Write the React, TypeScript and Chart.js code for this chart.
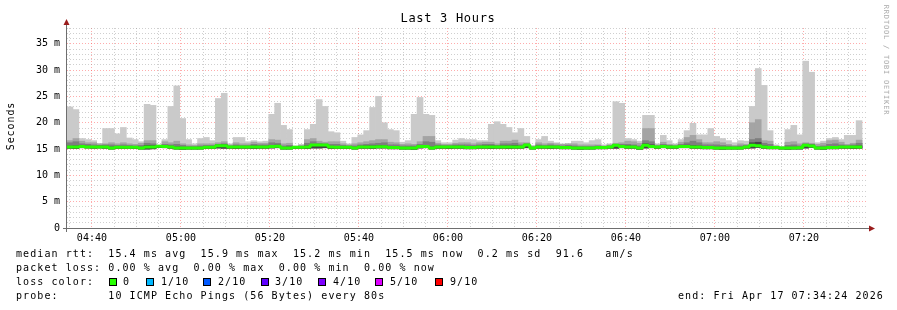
import React, { useEffect, useRef } from "react";
import { Chart, registerables } from "chart.js";

Chart.register(...registerables);

const STEP_SECONDS = 80;
const RANGE_SECONDS = 10800;
const FIRST_MAJOR = 336; // 04:40:00, seconds after 04:34:24
const MAJOR_EVERY = 1200;
const MINOR_EVERY = 300;

// top of smoke (slowest ping), ms
const maxRtt = [
  23.0, 22.5, 17.0, 16.8, 16.6, 16.0, 18.9, 18.9, 17.9, 19.1, 17.1, 16.8, 16.4, 23.5, 23.3, 15.8, 16.8, 23.1, 27.0, 20.8,
  16.8, 16.0, 17.0, 17.2, 16.6, 24.6, 25.6, 16.0, 17.2, 17.2, 16.4, 16.6, 16.4, 16.5, 21.6, 23.7, 19.5, 18.7, 15.6, 15.9,
  18.7, 19.7, 24.4, 23.1, 18.3, 18.1, 16.5, 16.0, 17.2, 17.7, 18.5, 22.9, 25.0, 20.0, 18.7, 18.5, 16.3, 16.6, 21.6, 24.8,
  21.6, 21.4, 16.6, 16.2, 16.2, 16.7, 17.0, 16.8, 16.8, 16.6, 16.6, 19.7, 20.2, 19.7, 19.1, 18.1, 18.9, 17.4, 15.6, 16.8,
  17.4, 16.5, 16.2, 16.0, 16.0, 16.5, 16.5, 16.2, 16.6, 16.8, 15.8, 16.0, 24.0, 23.7, 17.0, 16.8, 16.5, 21.4, 21.4, 16.0,
  17.6, 16.6, 16.0, 16.8, 18.5, 19.9, 17.7, 17.7, 18.9, 17.4, 17.0, 16.6, 16.2, 16.6, 16.5, 23.1, 30.3, 27.1, 18.5, 15.8,
  15.5, 18.7, 19.5, 17.7, 31.7, 29.6, 16.2, 16.5, 17.0, 17.2, 16.8, 17.6, 17.6, 20.4, null,
];

// second smoke layer top (9th ping), ms
const p9Rtt = [
  16.6, 17.0, 16.5, 16.2, 16.2, 16.0, 16.0, 16.2, 16.0, 16.2, 16.0, 15.9, 16.1, 16.6, 16.6, 15.7, 16.4, 16.2, 16.5, 16.0,
  15.8, 15.7, 16.0, 16.0, 16.0, 16.2, 16.4, 15.8, 16.2, 16.0, 16.0, 16.3, 16.1, 16.1, 16.8, 16.7, 16.0, 16.1, 15.5, 15.7,
  16.8, 17.0, 16.5, 16.3, 16.4, 16.4, 16.0, 15.8, 16.0, 16.2, 16.4, 16.6, 16.8, 16.8, 16.3, 16.2, 15.9, 16.0, 15.9, 16.4,
  17.4, 17.4, 16.1, 15.9, 15.9, 16.1, 16.2, 16.2, 16.0, 16.2, 16.3, 16.3, 16.0, 16.5, 16.5, 16.7, 16.2, 16.2, 15.6, 16.2,
  16.0, 16.1, 16.0, 15.9, 16.0, 16.0, 15.8, 15.8, 15.8, 15.8, 15.6, 15.8, 16.1, 16.2, 16.5, 16.4, 16.1, 18.9, 18.9, 15.8,
  16.3, 15.9, 15.8, 16.3, 17.2, 17.6, 16.8, 16.2, 16.2, 16.4, 16.2, 15.9, 15.7, 16.0, 15.9, 20.0, 20.6, 16.6, 16.5, 15.6,
  15.4, 16.3, 16.4, 16.0, 16.2, 16.1, 15.9, 16.1, 16.6, 16.7, 16.3, 15.9, 16.1, 16.7, null,
];

// third smoke layer top (8th ping), ms
const p8Rtt = [
  16.2, 16.4, 16.0, 15.9, 15.8, 15.7, 15.8, 15.8, 15.7, 15.8, 15.7, 15.6, 15.7, 16.1, 16.0, 15.6, 15.9, 15.8, 15.9, 15.7,
  15.5, 15.5, 15.6, 15.7, 15.7, 15.9, 16.0, 15.6, 15.8, 15.7, 15.7, 15.9, 15.8, 15.8, 16.2, 16.1, 15.6, 15.7, 15.45, 15.5,
  16.1, 16.4, 16.1, 16.0, 15.9, 15.9, 15.7, 15.6, 15.6, 15.8, 15.9, 16.0, 16.1, 16.2, 15.8, 15.8, 15.6, 15.6, 15.6, 15.9,
  16.4, 16.3, 15.8, 15.7, 15.7, 15.8, 15.8, 15.8, 15.7, 15.8, 15.9, 15.9, 15.7, 16.0, 16.0, 16.1, 15.8, 16.0, 15.4, 15.8,
  15.7, 15.8, 15.7, 15.6, 15.7, 15.6, 15.5, 15.5, 15.5, 15.6, 15.5, 15.6, 15.9, 15.9, 15.9, 15.8, 15.6, 16.6, 16.4, 15.6,
  15.9, 15.7, 15.6, 15.9, 16.2, 16.5, 16.2, 15.8, 15.8, 15.8, 15.7, 15.6, 15.5, 15.6, 15.7, 16.8, 17.0, 16.1, 15.9, 15.5,
  15.35, 15.7, 15.8, 15.6, 16.0, 15.9, 15.5, 15.6, 15.9, 16.0, 15.8, 15.7, 15.8, 16.1, null,
];

// inner smoke layer top (7th ping), ms
const p7Rtt = [
  15.55, 15.6, 15.65, 15.55, 15.5, 15.55, 15.55, 15.4, 15.5, 15.5, 15.45, 15.5, 15.35, 15.7, 15.65, 15.65, 15.65, 15.55, 15.4, 15.35,
  15.3, 15.3, 15.35, 15.5, 15.5, 15.75, 15.8, 15.5, 15.55, 15.5, 15.5, 15.6, 15.55, 15.55, 15.7, 15.75, 15.35, 15.4, 15.4, 15.45,
  15.6, 15.85, 15.9, 15.85, 15.55, 15.5, 15.45, 15.45, 15.35, 15.55, 15.6, 15.6, 15.65, 15.6, 15.45, 15.45, 15.3, 15.35, 15.35, 15.65,
  15.7, 15.4, 15.55, 15.5, 15.5, 15.55, 15.55, 15.45, 15.45, 15.55, 15.6, 15.6, 15.55, 15.6, 15.6, 15.65, 15.55, 15.85, 15.3, 15.55,
  15.5, 15.55, 15.5, 15.4, 15.45, 15.35, 15.3, 15.3, 15.3, 15.4, 15.4, 15.5, 15.8, 15.65, 15.6, 15.55, 15.35, 16.0, 15.8, 15.5,
  15.65, 15.55, 15.5, 15.65, 15.75, 15.65, 15.6, 15.45, 15.45, 15.35, 15.35, 15.35, 15.3, 15.35, 15.5, 16.2, 16.3, 15.6, 15.45, 15.4,
  15.3, 15.35, 15.35, 15.35, 15.8, 15.75, 15.35, 15.35, 15.5, 15.5, 15.55, 15.5, 15.55, 15.6, null,
];

// bottom of smoke (fastest ping), ms
const minRtt = [
  15.15, 15.1, 15.25, 15.2, 15.15, 15.2, 15.15, 15.0, 15.1, 15.1, 15.15, 15.1, 15.0, 15.0, 15.05, 15.3, 15.25, 15.15, 15.0, 14.95,
  15.0, 15.0, 15.0, 15.1, 15.1, 15.2, 15.15, 15.15, 15.1, 15.15, 15.15, 15.1, 15.15, 15.15, 15.2, 15.25, 15.0, 15.0, 15.1, 15.1,
  15.1, 15.2, 15.2, 15.25, 15.1, 15.1, 15.1, 15.1, 15.0, 15.15, 15.15, 15.1, 15.2, 15.2, 15.05, 15.05, 15.0, 15.0, 14.95, 15.2,
  15.25, 15.0, 15.15, 15.15, 15.1, 15.15, 15.15, 15.05, 15.05, 15.15, 15.15, 15.1, 15.15, 15.15, 15.1, 15.15, 15.15, 15.25, 15.0, 15.15,
  15.15, 15.1, 15.15, 15.05, 15.05, 15.0, 14.95, 15.0, 15.0, 15.05, 15.05, 15.15, 15.15, 15.25, 15.15, 15.15, 14.95, 15.2, 15.25, 15.15,
  15.25, 15.15, 15.15, 15.25, 15.25, 15.15, 15.15, 15.05, 15.05, 15.0, 14.95, 15.0, 15.0, 15.0, 15.15, 15.2, 15.3, 15.15, 15.05, 15.05,
  15.0, 14.95, 15.0, 15.0, 15.2, 15.3, 15.0, 14.95, 15.05, 15.05, 15.15, 15.15, 15.1, 15.15, null,
];

// median rtt per step, ms
const medianRtt = [
  15.4, 15.4, 15.5, 15.4, 15.4, 15.4, 15.4, 15.2, 15.35, 15.35, 15.35, 15.35, 15.2, 15.4, 15.4, 15.55, 15.5, 15.4, 15.2, 15.2,
  15.2, 15.2, 15.2, 15.35, 15.35, 15.65, 15.65, 15.4, 15.4, 15.4, 15.4, 15.4, 15.4, 15.4, 15.5, 15.55, 15.2, 15.2, 15.35, 15.35,
  15.4, 15.75, 15.75, 15.75, 15.4, 15.35, 15.35, 15.35, 15.2, 15.4, 15.4, 15.4, 15.45, 15.45, 15.3, 15.3, 15.2, 15.2, 15.2, 15.5,
  15.5, 15.2, 15.4, 15.4, 15.4, 15.4, 15.4, 15.3, 15.3, 15.4, 15.4, 15.4, 15.4, 15.4, 15.4, 15.4, 15.4, 15.75, 15.2, 15.4,
  15.4, 15.4, 15.4, 15.3, 15.3, 15.2, 15.2, 15.2, 15.2, 15.3, 15.3, 15.4, 15.7, 15.5, 15.4, 15.4, 15.2, 15.7, 15.5, 15.4,
  15.5, 15.4, 15.4, 15.5, 15.5, 15.4, 15.4, 15.3, 15.3, 15.2, 15.2, 15.2, 15.2, 15.2, 15.4, 15.7, 15.65, 15.4, 15.3, 15.3,
  15.2, 15.2, 15.2, 15.25, 15.7, 15.6, 15.2, 15.2, 15.3, 15.3, 15.4, 15.4, 15.4, 15.4, null,
];

const xMajorLabels = ["04:40", "05:00", "05:20", "05:40", "06:00", "06:20", "06:40", "07:00", "07:20"];
const yMajorLabels = ["0", "5 m", "10 m", "15 m", "20 m", "25 m", "30 m", "35 m"];
const Y_MAX = 38;

const statsLines = [
  "median rtt:  15.4 ms avg  15.9 ms max  15.2 ms min  15.5 ms now  0.2 ms sd  91.6   am/s",
  "packet loss: 0.00 % avg  0.00 % max  0.00 % min  0.00 % now",
];
const lossTitle = "loss color:";
const lossLabels = ["0", "1/10", "2/10", "3/10", "4/10", "5/10", "9/10"];
const lossColors = ["#26ff00", "#00b8ff", "#0059ff", "#5e00ff", "#7e00ff", "#dd00ff", "#ff0000"];
const probeLine = "probe:       10 ICMP Echo Pings (56 Bytes) every 80s";
const endLine = "end: Fri Apr 17 07:34:24 2026";
const titleText = "Last 3 Hours";
const yTitle = "Seconds";
const watermark = "RRDTOOL / TOBI OETIKER";

const MONO = '"DejaVu Sans Mono", monospace';

function layer(lo: (number | null)[], hi: (number | null)[]) {
  const out: { x: number; y: [number, number] }[] = [];
  hi.forEach((h, i) => {
    const l = lo[i];
    if (h == null || l == null) return;
    out.push({ x: STEP_SECONDS / 2 + STEP_SECONDS * i, y: [l, h] });
  });
  return out;
}

function medianSteps() {
  const pts: { x: number; y: number | null }[] = [];
  medianRtt.forEach((m, i) => {
    if (m == null) {
      pts.push({ x: STEP_SECONDS * i + 1, y: null });
      return;
    }
    pts.push({ x: STEP_SECONDS * i, y: m }, { x: STEP_SECONDS * (i + 1), y: m });
  });
  return pts;
}

const xTickValues: number[] = [];
for (let v = FIRST_MAJOR % MINOR_EVERY; v < RANGE_SECONDS; v += MINOR_EVERY) xTickValues.push(v);
const yTickValues: number[] = [];
for (let v = 0; v <= Y_MAX; v++) yTickValues.push(v);

const isMajorX = (v: number) => (v - FIRST_MAJOR) % MAJOR_EVERY === 0 && v >= FIRST_MAJOR;

const MINOR_GRID = "rgba(140,140,140,0.42)";
const MAJOR_GRID = "rgba(255,70,70,0.45)";

function spacedText(ctx: CanvasRenderingContext2D, spacing: string) {
  try {
    (ctx as any).letterSpacing = spacing;
  } catch (e) {
    /* ignore */
  }
}

const decorPlugin = {
  id: "rrdDecor",
  afterDraw(chart: any) {
    const ctx: CanvasRenderingContext2D = chart.ctx;
    const area = chart.chartArea;
    ctx.save();
    ctx.strokeStyle = "#6e6e6e";
    ctx.lineWidth = 1;
    ctx.setLineDash([]);
    ctx.beginPath();
    ctx.moveTo(Math.round(area.left) - 0.5, area.bottom + 4);
    ctx.lineTo(Math.round(area.left) - 0.5, area.top - 5);
    ctx.moveTo(area.left - 4, Math.round(area.bottom) + 0.5);
    ctx.lineTo(area.right + 3, Math.round(area.bottom) + 0.5);
    ctx.stroke();
    ctx.fillStyle = "#9a1c1c";
    const ax = Math.round(area.left) - 0.5;
    ctx.beginPath();
    ctx.moveTo(ax - 3, area.top - 3);
    ctx.lineTo(ax + 3, area.top - 3);
    ctx.lineTo(ax, area.top - 9);
    ctx.closePath();
    ctx.fill();
    const ay = Math.round(area.bottom) + 0.5;
    ctx.beginPath();
    ctx.moveTo(area.right + 1, ay - 3);
    ctx.lineTo(area.right + 1, ay + 3);
    ctx.lineTo(area.right + 7, ay);
    ctx.closePath();
    ctx.fill();

    ctx.fillStyle = "#000";
    ctx.font = `12px ${MONO}`;
    spacedText(ctx, "0.7px");
    ctx.textAlign = "center";
    ctx.textBaseline = "middle";
    ctx.fillText(titleText, 448, 19);

    ctx.save();
    ctx.font = `10px ${MONO}`;
    spacedText(ctx, "0.9px");
    ctx.translate(11, 126);
    ctx.rotate(-Math.PI / 2);
    ctx.fillText(yTitle, 0, 0);
    ctx.restore();

    ctx.save();
    ctx.fillStyle = "#aaaaaa";
    ctx.font = `7px ${MONO}`;
    spacedText(ctx, "0.8px");
    ctx.translate(886, 60);
    ctx.rotate(Math.PI / 2);
    ctx.fillText(watermark, 0, 0);
    ctx.restore();
    ctx.restore();
  },
};

export default function App() {
  const ref = useRef<HTMLCanvasElement>(null);

  useEffect(() => {
    if (!ref.current) return;
    const chart = new Chart(ref.current, {
      type: "bar",
      data: {
        datasets: [
          {
            type: "line",
            data: medianSteps() as any,
            borderColor: "#26ff00",
            borderWidth: 3,
            pointRadius: 0,
            fill: false,
            tension: 0,
            borderCapStyle: "butt",
            borderJoinStyle: "bevel",
            spanGaps: false,
            order: 0,
          } as any,
          { data: layer(minRtt, p7Rtt) as any, backgroundColor: "#444444", order: 1 } as any,
          { data: layer(minRtt, p8Rtt) as any, backgroundColor: "#7e7e7e", order: 2 } as any,
          { data: layer(minRtt, p9Rtt) as any, backgroundColor: "#a4a4a4", order: 3 } as any,
          { data: layer(minRtt, maxRtt) as any, backgroundColor: "#cacaca", order: 4 } as any,
        ],
      },
      options: {
        animation: false,
        responsive: false,
        devicePixelRatio: 1,
        layout: { padding: { left: 0, right: 29, top: 28, bottom: 0 } },
        datasets: {
          bar: {
            grouped: false,
            barPercentage: 1,
            categoryPercentage: 1,
            borderWidth: 0,
          },
        } as any,
        plugins: { legend: { display: false }, tooltip: { enabled: false }, title: { display: false } },
        scales: {
          x: {
            type: "linear",
            min: 0,
            max: RANGE_SECONDS,
            offset: false,
            afterBuildTicks: (scale: any) => {
              scale.ticks = xTickValues.map((v) => ({ value: v }));
            },
            afterFit: (scale: any) => {
              scale.height = 82;
            },
            grid: {
              offset: false,
              drawTicks: false,
              lineWidth: 1,
              color: (c: any) => (isMajorX(c.tick?.value) ? MAJOR_GRID : MINOR_GRID),
            },
            border: { display: false, dash: [1, 2] },
            ticks: {
              autoSkip: false,
              maxRotation: 0,
              minRotation: 0,
              padding: 4,
              color: "#000",
              font: { family: MONO, size: 10 },
              callback: (v: any) => {
                const n = Number(v);
                return isMajorX(n) ? xMajorLabels[(n - FIRST_MAJOR) / MAJOR_EVERY] ?? "" : "";
              },
            },
          } as any,
          y: {
            type: "linear",
            min: 0,
            max: Y_MAX,
            afterBuildTicks: (scale: any) => {
              scale.ticks = yTickValues.map((v) => ({ value: v }));
            },
            afterFit: (scale: any) => {
              scale.width = 67;
            },
            grid: {
              drawTicks: false,
              lineWidth: 1,
              color: (c: any) => (c.tick?.value % 5 === 0 ? MAJOR_GRID : MINOR_GRID),
            },
            border: { display: false, dash: [1, 2] },
            ticks: {
              autoSkip: false,
              padding: 7,
              color: "#000",
              font: { family: MONO, size: 10 },
              callback: (v: any) => {
                const n = Number(v);
                return n % 5 === 0 ? yMajorLabels[n / 5] ?? "" : "";
              },
            },
          } as any,
        },
      },
      plugins: [decorPlugin],
    });
    return () => chart.destroy();
  }, []);

  const textStyle: React.CSSProperties = {
    position: "absolute",
    fontFamily: MONO,
    fontSize: 10,
    letterSpacing: "1.08px",
    lineHeight: "14px",
    whiteSpace: "pre",
    color: "#000",
  };
  const boxX = [109, 146, 203, 261, 318, 375, 435];
  const labelX = [123, 161, 218, 275, 333, 390, 450];

  return (
    <div style={{ position: "absolute", left: 0, top: 0, width: 897, height: 310, background: "#fff", overflow: "hidden" }}>
      <canvas ref={ref} width={897} height={310} style={{ position: "absolute", left: 0, top: 0, width: 897, height: 310 }} />
      <div style={{ ...textStyle, left: 16, top: 247 }}>{statsLines[0]}</div>
      <div style={{ ...textStyle, left: 16, top: 261 }}>{statsLines[1]}</div>
      <div style={{ ...textStyle, left: 16, top: 275 }}>{lossTitle}</div>
      {lossLabels.map((lab, i) => (
        <React.Fragment key={lab}>
          <div
            style={{
              position: "absolute",
              left: boxX[i],
              top: 278,
              width: 6,
              height: 6,
              background: lossColors[i],
              border: "1px solid #000",
            }}
          />
          <div style={{ ...textStyle, left: labelX[i], top: 275 }}>{lab}</div>
        </React.Fragment>
      ))}
      <div style={{ ...textStyle, left: 16, top: 289 }}>{probeLine}</div>
      <div style={{ ...textStyle, left: 678, top: 289 }}>{endLine}</div>
    </div>
  );
}
